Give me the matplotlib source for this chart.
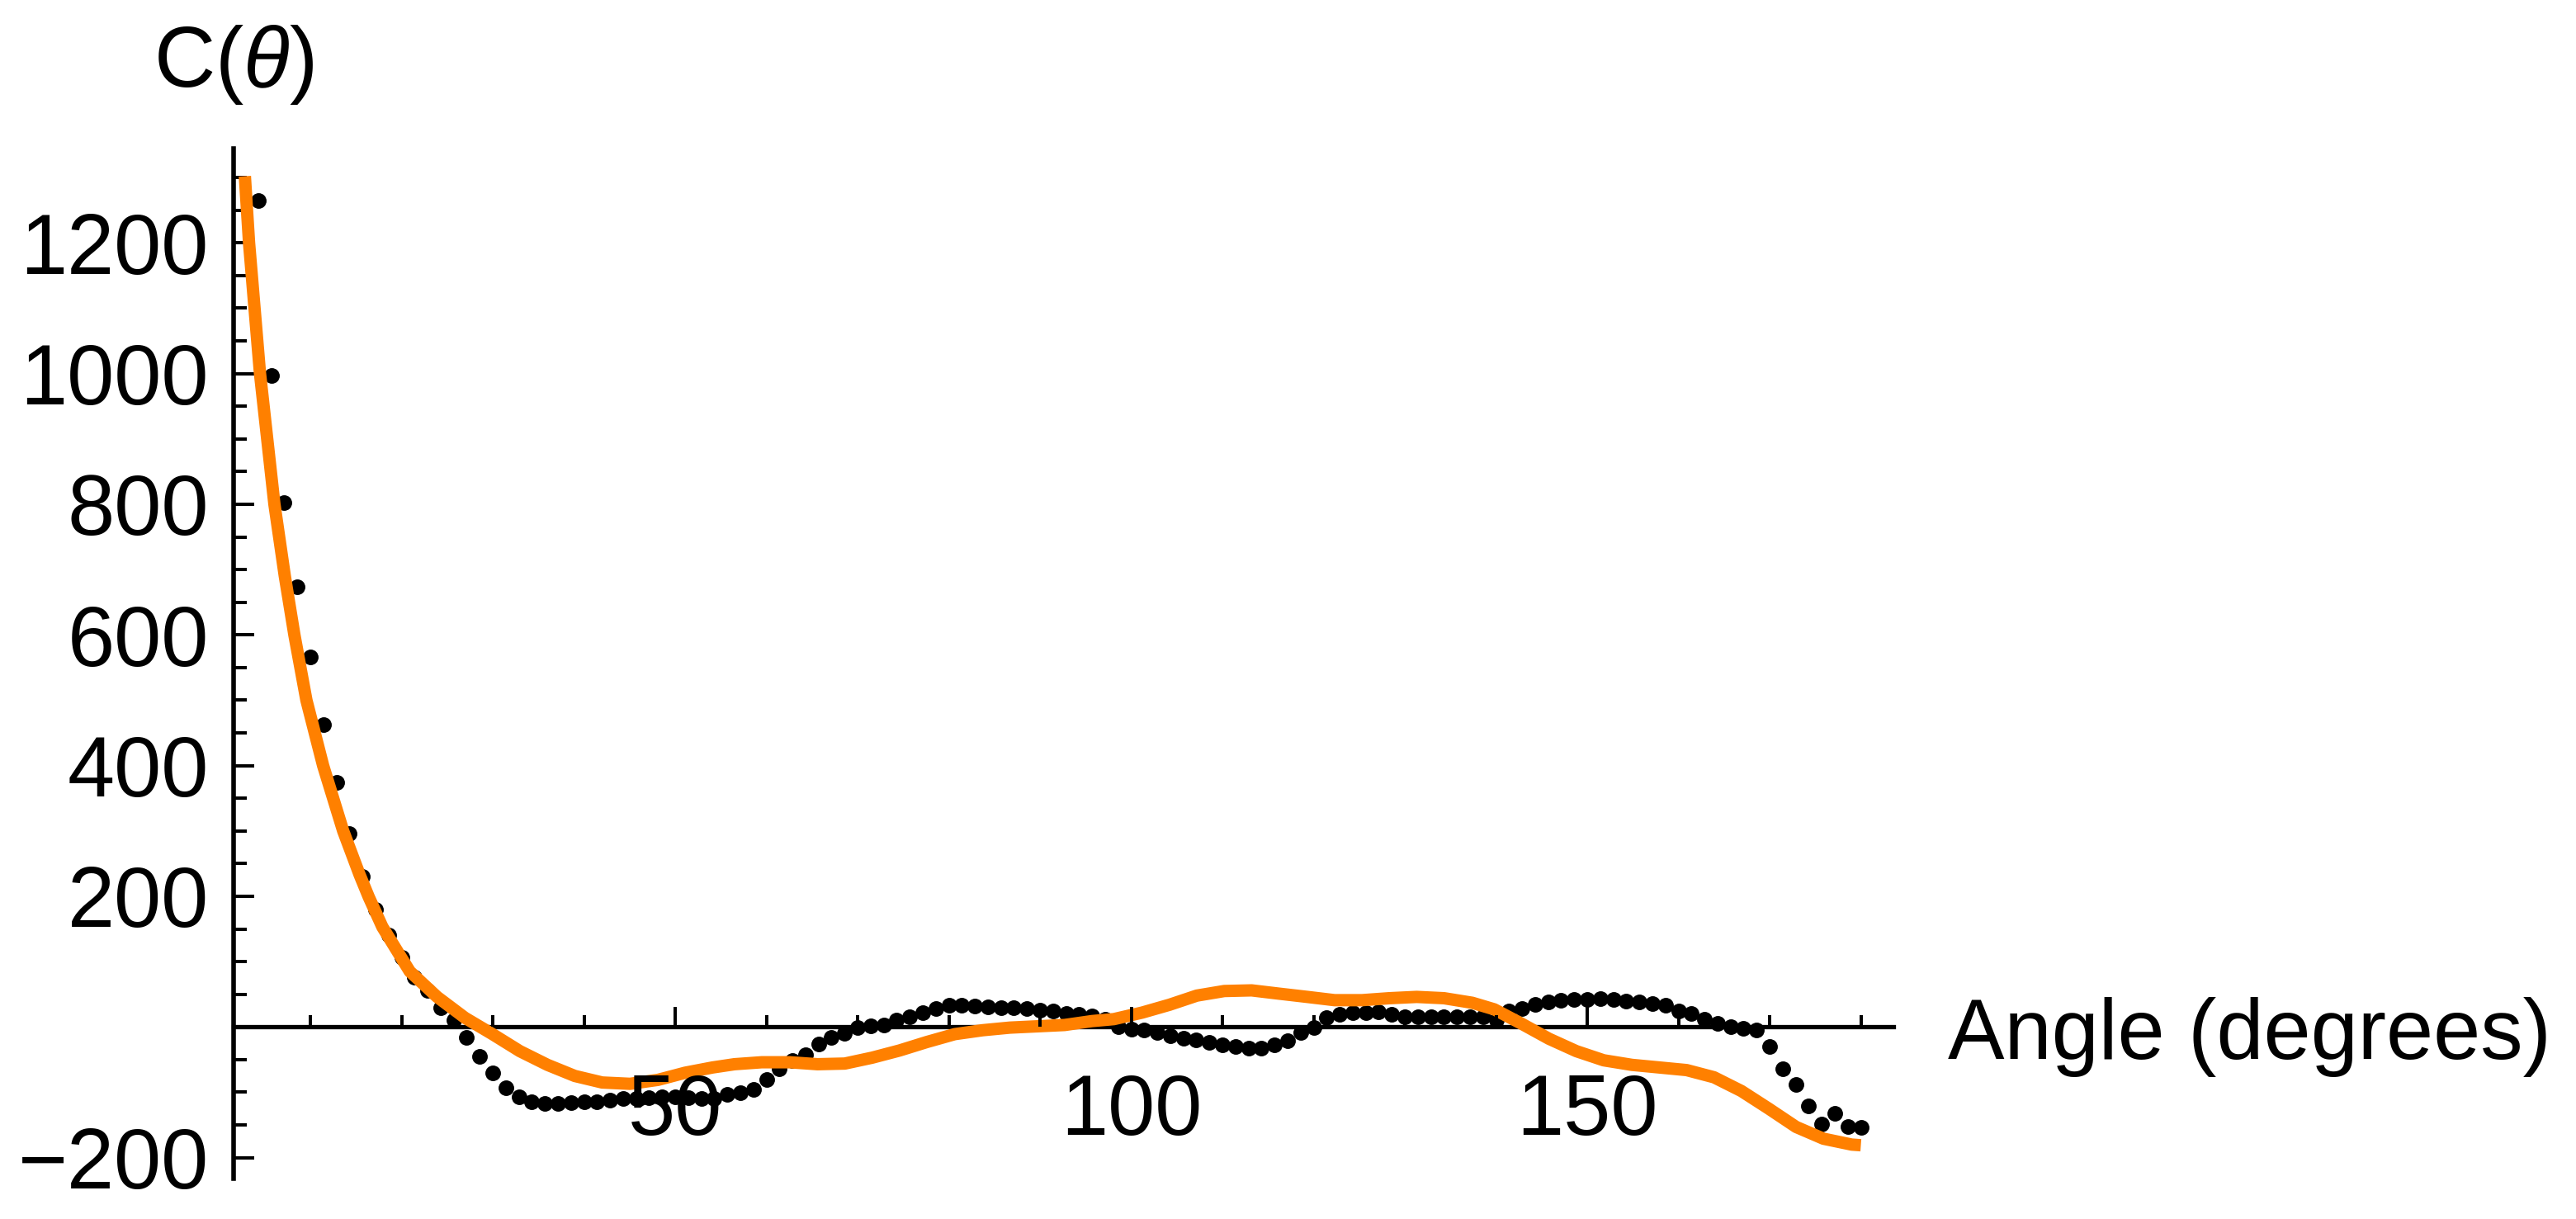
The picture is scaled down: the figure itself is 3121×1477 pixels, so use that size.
import numpy as np
import matplotlib
matplotlib.use("Agg")
import matplotlib.pyplot as plt
from matplotlib.ticker import FixedLocator

plt.rcParams['font.family'] = ['Liberation Sans', 'DejaVu Sans']
plt.rcParams['mathtext.fontset'] = 'custom'
plt.rcParams['mathtext.rm'] = 'Liberation Sans'
plt.rcParams['mathtext.it'] = 'Liberation Sans:italic'

# measured points: sampled every 180/126 degrees, first visible sample is index 3
sample_index = np.arange(3, 127)
angle = sample_index * 180.0 / 126
c_measured = [
    1265, 997, 802, 673, 566, 463, 374, 296, 230, 180,
    141, 106, 76, 56, 29, 10, -16, -45, -70, -93,
    -107, -115, -117, -117, -116, -115, -114, -112, -110, -109,
    -108, -107, -107, -108, -110, -109, -103, -101, -95, -80,
    -64, -51, -42, -26, -16, -10, -1, 2, 3, 10,
    16, 22, 28, 33, 33, 32, 31, 30, 30, 28,
    26, 24, 21, 19, 17, 12, 0, -3, -5, -9,
    -13, -17, -20, -24, -28, -30, -32, -32, -28, -21,
    -9, -1, 14, 19, 22, 22, 23, 19, 16, 16,
    16, 16, 16, 16, 15, 11, 24, 28, 34, 38,
    41, 42, 42, 43, 42, 39, 38, 36, 33, 25,
    20, 12, 5, 1, -2, -5, -30, -64, -88, -121,
    -149, -132, -152, -154,
]

# fitted curve
fit_angle = [2.82, 3.28, 4.48, 6.06, 7.2, 8.25, 9.57, 11.4, 13.6, 15.4,
             16.4, 17.9, 20.9, 23.9, 26.95, 29.97, 32.97, 36.0, 39.0, 42.0,
             45.05, 48.1, 51.1, 54.1, 56.5, 59.5, 62.55, 65.6, 68.6, 71.6,
             74.6, 77.6, 80.65, 83.7, 86.7, 89.7, 92.7, 95.7, 98.1, 101.2,
             104.2, 107.2, 110.2, 113.2, 116.2, 119.3, 122.3, 125.3, 128.3, 131.3,
             134.3, 137.4, 139.8, 142.8, 145.8, 148.8, 151.8, 154.9, 157.9, 160.9,
             163.9, 166.9, 169.9, 172.9, 175.9, 179.0, 180.0]
fit_value = [1302, 1200, 1000, 800, 690, 600, 500, 400, 300, 233,
             199, 153, 85, 46, 14, -11, -37, -58, -75, -85,
             -87, -81, -70, -62, -57, -54, -54, -57, -56, -47,
             -36, -23, -11, -5, -1, 1, 3, 9, 12, 22,
             34, 48, 55, 56, 51, 46, 41, 41, 44, 46,
             44, 37, 27, 5, -18, -37, -51, -58, -62, -66,
             -77, -98, -125, -153, -171, -180, -181]

y_major = [-200, 200, 400, 600, 800, 1000, 1200]
y_minor = [v for v in range(-200, 1301, 50) if v not in y_major and v != 0]
x_major = [50, 100, 150]
x_minor = [v for v in range(10, 181, 10) if v not in x_major]

W, H = 3121, 1477
fig = plt.figure(figsize=(W / 200, H / 200), dpi=200)
ax = fig.add_axes([283.3 / W, 1 - 1428 / H, (2294 - 283.3) / W, (1428 - 180) / H])

ax.plot(angle, c_measured, 'o', color='black', markersize=6.8, markeredgewidth=0, zorder=3)
ax.plot(fit_angle, fit_value, '-', color='#FF8000', linewidth=5.4,
        solid_joinstyle='round', solid_capstyle='butt', zorder=4)

ax.set_xlim(1.61, 183.57)
ax.set_ylim(-232, 1344.3)

for s in ['top', 'right']:
    ax.spines[s].set_visible(False)
ax.spines['bottom'].set_position(('data', 0))
ax.spines['left'].set_linewidth(2.0)
ax.spines['bottom'].set_linewidth(1.9)

ax.xaxis.set_major_locator(FixedLocator(x_major))
ax.xaxis.set_minor_locator(FixedLocator(x_minor))
ax.yaxis.set_major_locator(FixedLocator(y_major))
ax.yaxis.set_minor_locator(FixedLocator(y_minor))

ax.tick_params(axis='x', which='major', direction='in', length=8.6, width=1.44,
               labelsize=37, pad=20)
ax.tick_params(axis='x', which='minor', direction='in', length=5, width=1.44)
ax.tick_params(axis='y', which='major', direction='in', length=9, width=1.44,
               labelsize=37, pad=11)
ax.tick_params(axis='y', which='minor', direction='in', length=5.8, width=1.44)
ax.xaxis.set_zorder(5)

fig.text(283.3 / W, 1 - 105 / H, r'C($\theta$)', fontsize=37, ha='center', va='baseline')
fig.text(2360 / W, 1 - 1283 / H, 'Angle (degrees)', fontsize=37, ha='left', va='baseline')

fig.savefig('out.png', dpi=200)
